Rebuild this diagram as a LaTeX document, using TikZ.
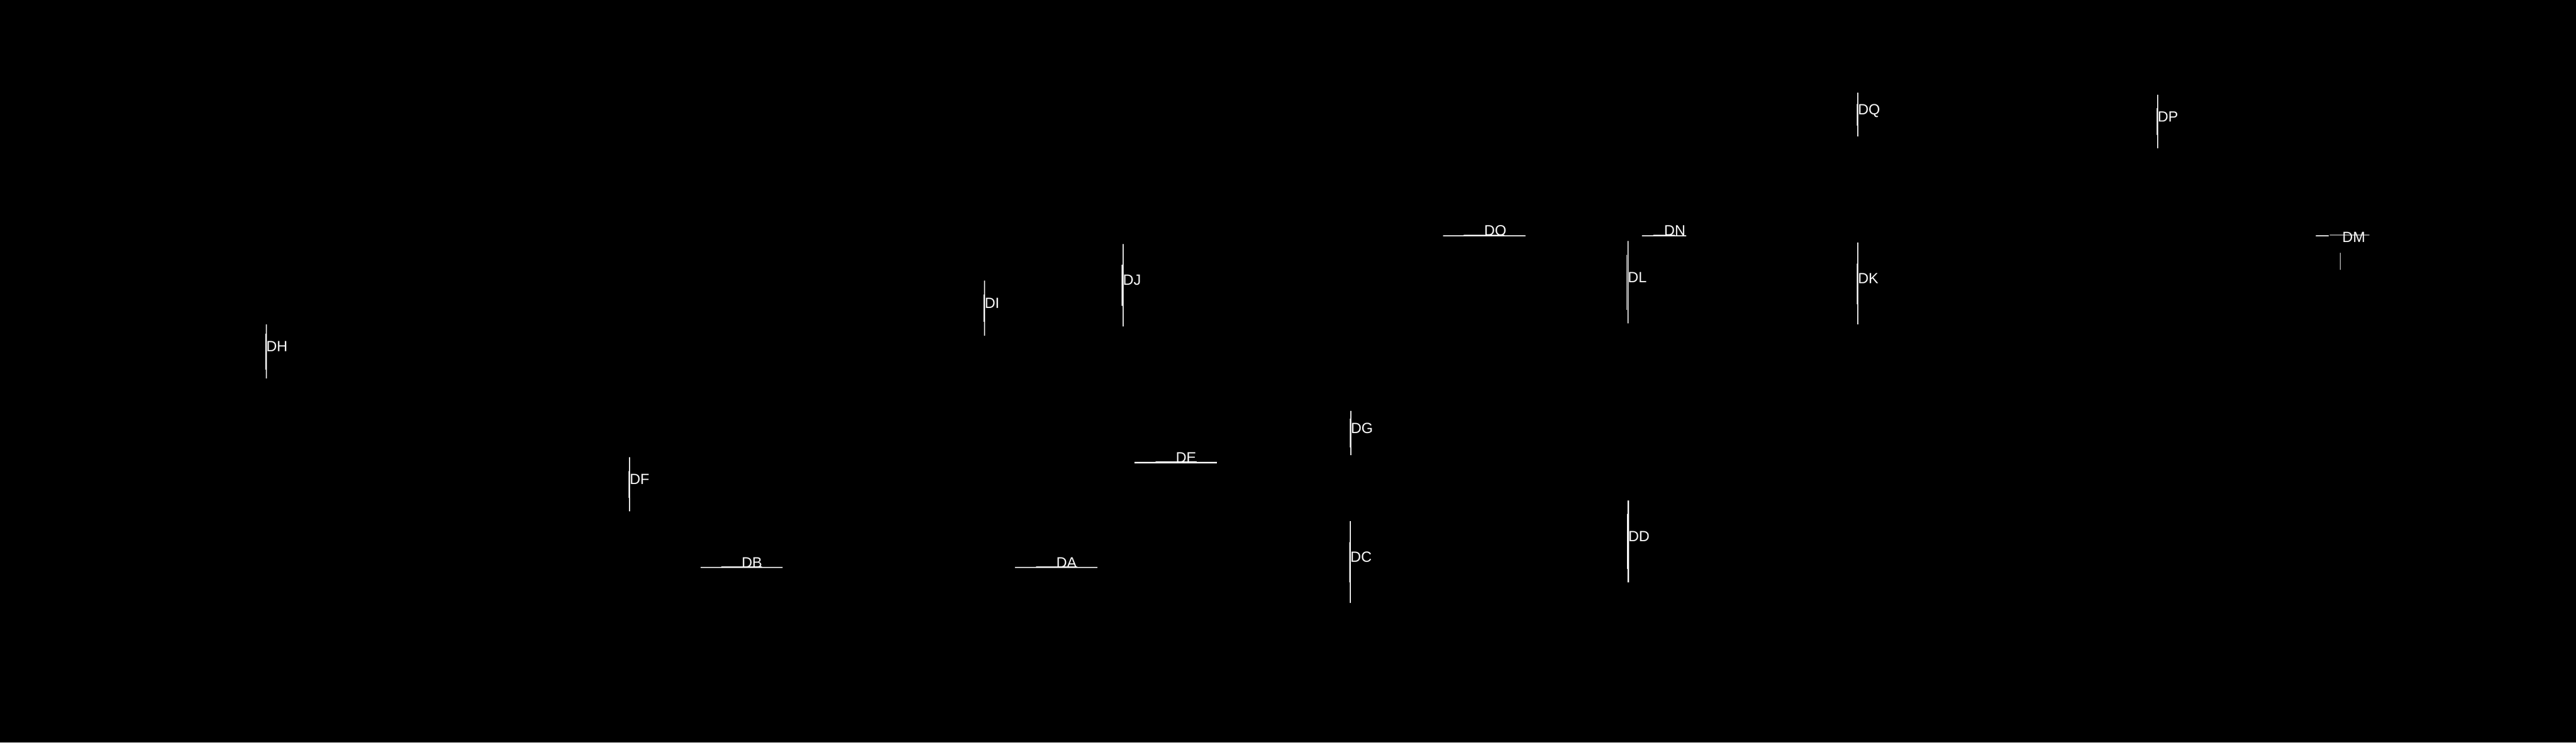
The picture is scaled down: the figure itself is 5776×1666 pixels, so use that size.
\documentclass[tikz,border=0pt]{standalone}
\usepackage{fontspec}
\setmainfont{Liberation Sans}
\begin{document}
\begin{tikzpicture}[x=0.1pt,y=-0.1pt,
  heavy/.style={draw=white,line width=0.25pt},
  light/.style={draw=white,line width=0.12pt},
  lbl/.style={text=white,inner sep=0pt,outer sep=0pt,anchor=base west,font=\fontsize{3.3pt}{4pt}\selectfont}]
\fill[black] (0,0) rectangle (5776,1666);
\useasboundingbox (0,0) rectangle (5776,1666);
% vertical marks
\draw[heavy] (597,728) -- (597,849);   \draw[light] (595,749) -- (595,829);   \node[lbl] (DH) at (597,788.5) {DH};
\draw[heavy] (1412,1026) -- (1412,1147); \draw[light] (1410,1057) -- (1410,1117); \node[lbl] (DF) at (1412,1087) {DF};
\draw[heavy] (2208,629) -- (2208,753);  \draw[light] (2206,661) -- (2206,722);  \node[lbl] (DI) at (2208,691) {DI};
\draw[heavy] (2518,547) -- (2518,732);  \draw[light] (2516,594) -- (2516,686);  \node[lbl] (DJ) at (2518,639.5) {DJ};
\draw[heavy] (3029,922) -- (3029,1021); \draw[light] (3027,939) -- (3027,1004); \node[lbl] (DG) at (3029,971.5) {DG};
\draw[heavy] (3028,1169) -- (3028,1353); \draw[light] (3026,1216) -- (3026,1307); \node[lbl] (DC) at (3028,1261) {DC};
\draw[heavy] (3651,1123) -- (3651,1307); \draw[light] (3649,1153) -- (3649,1277); \node[lbl] (DD) at (3651,1215) {DD};
\draw[heavy] (3650,541) -- (3650,726);  \draw[light] (3648,572) -- (3648,695);  \node[lbl] (DL) at (3650,633.5) {DL};
\draw[heavy] (4166,544) -- (4166,728);  \draw[light] (4164,591) -- (4164,683);  \node[lbl] (DK) at (4166,636) {DK};
\draw[heavy] (4166,208) -- (4166,306);  \draw[light] (4164,233) -- (4164,282);  \node[lbl] (DQ) at (4166,257) {DQ};
\draw[heavy] (4838,213) -- (4838,333);  \draw[light] (4836,243) -- (4836,303);  \node[lbl] (DP) at (4838,273) {DP};
% horizontal marks
\draw[heavy] (1571,1273) -- (1755,1273); \draw[light] (1617,1271) -- (1708,1271); \node[lbl] (DB) at (1663,1273) {DB};
\draw[heavy] (2276,1273) -- (2461,1273); \draw[light] (2323,1271) -- (2415,1271); \node[lbl] (DA) at (2368.5,1273) {DA};
\draw[heavy] (2544,1038) -- (2729,1038); \draw[light] (2591,1036) -- (2683,1036); \node[lbl] (DE) at (2636.5,1038) {DE};
\draw[heavy] (3236,529) -- (3420,529);  \draw[light] (3282,527) -- (3373,527);  \node[lbl] (DO) at (3328,529) {DO};
\draw[heavy] (3682,529) -- (3781,529);  \draw[light] (3707,527) -- (3756,527);  \node[lbl] (DN) at (3731.5,529) {DN};
% DM
\draw[heavy] (5193,529) -- (5221,529);
\draw[light] (5224,527) -- (5313,527);
\draw[light] (5248,567) -- (5248,605);
\node[lbl] (DM) at (5252,544) {DM};
\end{tikzpicture}
\end{document}
